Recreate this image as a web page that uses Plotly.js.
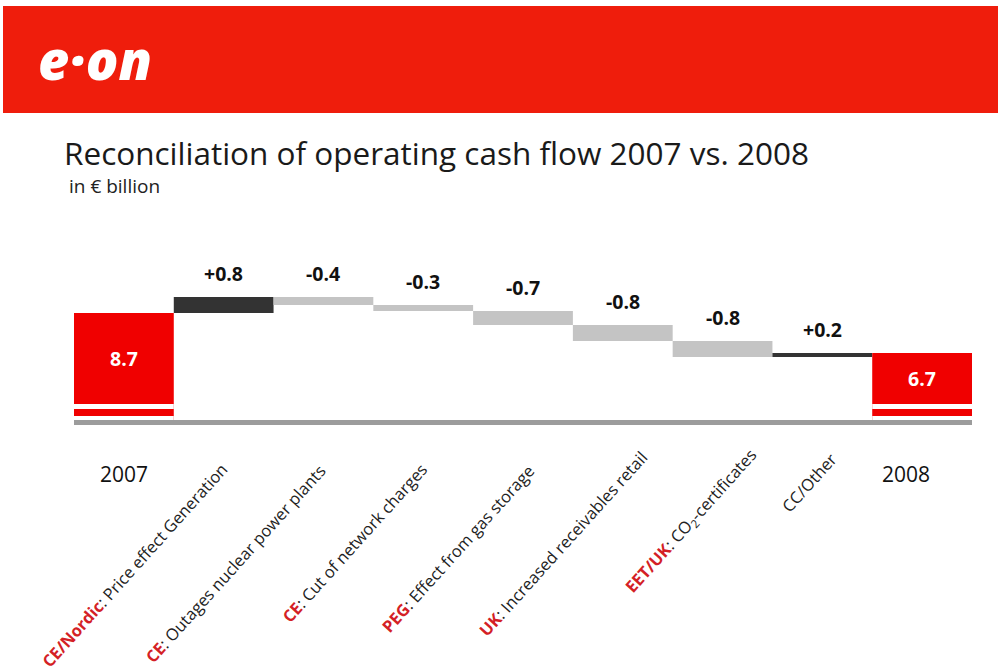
<!DOCTYPE html>
<html>
<head>
<meta charset="utf-8">
<script src="https://cdn.plot.ly/plotly-3.0.1.min.js"></script>
<style>html,body{margin:0;padding:0;background:#fff;}#chart{width:998px;height:671px;}</style>
</head>
<body>
<div id="chart"></div>
<script>
// ---- data ----
const categories = ['2007', 'CE/Nordic', 'CE outages', 'CE network', 'PEG', 'UK', 'EET/UK', 'CC/Other', '2008'];
const values = [8.7, 0.8, -0.4, -0.3, -0.7, -0.8, -0.8, 0.2, 6.7];
const measures = ['absolute', 'relative', 'relative', 'relative', 'relative', 'relative', 'relative', 'relative', 'total'];
const labelPrefix = ['', 'CE/Nordic', 'CE', 'CE', 'PEG', 'UK', 'EET/UK', '', ''];
const labelText = ['2007', 'Price effect Generation', 'Outages nuclear power plants', 'Cut of network charges',
  'Effect from gas storage', 'Increased receivables retail', 'CO<sub>2</sub>-certificates', 'CC/Other', '2008'];

// ---- layout geometry (pixels) ----
const W = 998, H = 671;
const M = {l: 74, r: 26, t: 250, b: 246};
const pw = W - M.l - M.r, ph = H - M.t - M.b;
const px = x => (x - M.l) / pw;          // pixel -> paper x
const py = y => (H - M.b - y) / ph;      // pixel -> paper y
const yMin = 3.1, yMax = 11.85;
const breakTop = 4.15, breakGapBot = 3.9, stripeBot = 3.55, baseTop = 3.35;
// small per-label placement nudges (pixels), as laid out on the original slide
const nudgeX = [0, 0, -2, 0, 7, 20, 30, 10, -16];
const nudgeY = [0, 0, -2, 0, -2, 12, 14, 10, 0];

const red = '#f00000';
const labelRed = '#d41f26';

const idx = categories.map((c, i) => i);

const trace = {
  type: 'waterfall',
  x: idx,
  y: values,
  measure: measures,
  textinfo: 'none',
  hoverinfo: 'none',
  connector: {visible: false},
  increasing: {marker: {color: '#333333', line: {width: 0}}},
  decreasing: {marker: {color: '#c4c4c4', line: {width: 0}}},
  totals: {marker: {color: red, line: {width: 0}}}
};

// running levels
let run = 0;
const tops = [];
const totalsIdx = [];
values.forEach((v, i) => {
  if (measures[i] === 'absolute') { run = v; tops.push(v); totalsIdx.push(i); }
  else if (measures[i] === 'total') { tops.push(run); totalsIdx.push(i); }
  else { const prev = run; run = run + v; tops.push(Math.max(prev, run)); }
});

const annotations = [];
const shapes = [];

// header
shapes.push({type: 'rect', xref: 'paper', yref: 'paper', x0: px(3), x1: px(998), y0: py(113), y1: py(6),
  fillcolor: '#ef1d0c', line: {width: 0}, layer: 'below'});
annotations.push({xref: 'paper', yref: 'paper', x: px(36), y: py(59), xanchor: 'left', yanchor: 'middle',
  text: 'e·on', showarrow: false,
  font: {family: 'Open Sans', size: 54, color: '#ffffff', weight: 800, style: 'italic'}});

// subtitle
annotations.push({xref: 'paper', yref: 'paper', x: px(67), y: py(186), xanchor: 'left', yanchor: 'middle',
  text: 'in € billion', showarrow: false, font: {family: 'Open Sans', size: 19, color: '#222'}});

// value labels
values.forEach((v, i) => {
  if (measures[i] === 'relative') {
    annotations.push({x: i, y: tops[i], xref: 'x', yref: 'y', yanchor: 'bottom', yshift: 8,
      text: (v > 0 ? '+' : '') + v.toFixed(1), showarrow: false,
      font: {family: 'Open Sans', size: 19.5, color: '#111', weight: 700}});
  } else {
    annotations.push({x: i, y: (tops[i] + breakTop) / 2, xref: 'x', yref: 'y', yanchor: 'middle',
      text: tops[i].toFixed(1), showarrow: false,
      font: {family: 'Open Sans', size: 19.5, color: '#ffffff', weight: 700}});
  }
});

// axis break on total bars
totalsIdx.forEach(i => {
  shapes.push({type: 'rect', xref: 'x', yref: 'y', x0: i - 0.5, x1: i + 0.5, y0: breakGapBot, y1: breakTop,
    fillcolor: '#ffffff', line: {width: 0}, layer: 'above'});
  shapes.push({type: 'rect', xref: 'x', yref: 'y', x0: i - 0.5, x1: i + 0.5, y0: yMin - 1, y1: stripeBot,
    fillcolor: '#ffffff', line: {width: 0}, layer: 'above'});
});
// baseline
shapes.push({type: 'rect', xref: 'x', yref: 'y', x0: -0.6, x1: categories.length - 0.4, y0: yMin - 1, y1: baseTop,
  fillcolor: '#9c9c9c', line: {width: 0}, layer: 'above'});

// category labels
categories.forEach((c, i) => {
  if (measures[i] === 'relative') {
    const pre = labelPrefix[i] ? '<b><span style="color:' + labelRed + '">' + labelPrefix[i] + '</span></b>: ' : '';
    annotations.push({x: i, y: 0, xref: 'x', yref: 'paper', xanchor: 'right', yanchor: 'top',
      xshift: 12 + nudgeX[i], yshift: -30 + nudgeY[i], textangle: -48, text: pre + labelText[i], showarrow: false,
      font: {family: 'Open Sans', size: 16.5, color: '#222'}});
  } else {
    annotations.push({x: i, y: 0, xref: 'x', yref: 'paper', xanchor: 'center', yanchor: 'middle',
      xshift: nudgeX[i], yshift: -49 + nudgeY[i], text: labelText[i], showarrow: false,
      font: {family: 'Open Sans', size: 21, color: '#111'}});
  }
});

const layout = {
  width: W, height: H,
  margin: M,
  paper_bgcolor: '#ffffff', plot_bgcolor: '#ffffff',
  showlegend: false,
  waterfallgap: 0,
  title: {text: 'Reconciliation of operating cash flow 2007 vs. 2008', x: 64 / W, xanchor: 'left',
    y: 1 - 154 / H, yanchor: 'middle', yref: 'container',
    font: {family: 'Open Sans', size: 31.5, color: '#1a1a1a'}},
  xaxis: {showticklabels: false, showgrid: false, zeroline: false, showline: false, ticks: '',
    range: [-0.5, categories.length - 0.5], fixedrange: true},
  yaxis: {range: [yMin, yMax], showticklabels: false, showgrid: false, zeroline: false, showline: false, ticks: '',
    fixedrange: true},
  shapes: shapes,
  annotations: annotations
};

Plotly.newPlot('chart', [trace], layout, {displayModeBar: false, staticPlot: true});
</script>
</body>
</html>
